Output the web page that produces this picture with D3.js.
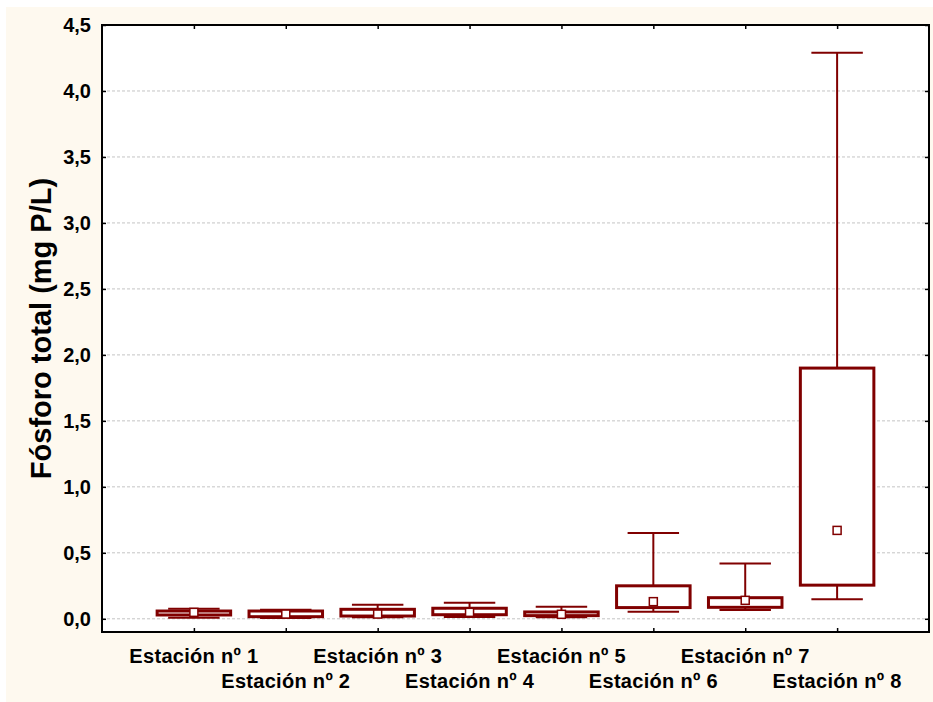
<!DOCTYPE html>
<html>
<head>
<meta charset="utf-8">
<script src="https://cdn.jsdelivr.net/npm/d3@7"></script>
<style>
  html, body { margin: 0; padding: 0; background: #ffffff; }
  svg { display: block; font-family: "Liberation Sans", Arial, sans-serif; }
</style>
</head>
<body>
<svg id="chart" width="933" height="702"></svg>
<script>
// Total phosphorus per sampling station (mg P/L)
const stations = ["Estación nº 1", "Estación nº 2", "Estación nº 3", "Estación nº 4",
                  "Estación nº 5", "Estación nº 6", "Estación nº 7", "Estación nº 8"];
const whiskerLow  = [0.008, 0.006, 0.011, 0.014, 0.011, 0.054, 0.067, 0.148];
const boxLow      = [0.029, 0.016, 0.021, 0.031, 0.024, 0.085, 0.087, 0.255];
const boxHigh     = [0.059, 0.059, 0.072, 0.080, 0.052, 0.250, 0.160, 1.900];
const whiskerHigh = [0.077, 0.069, 0.107, 0.122, 0.092, 0.650, 0.420, 4.290];
const centre      = [0.049, 0.036, 0.036, 0.049, 0.034, 0.130, 0.140, 0.670];
const yTicks = [0, 0.5, 1, 1.5, 2, 2.5, 3, 3.5, 4, 4.5];
const yLabel = "Fósforo total (mg P/L)";

const svg = d3.select("#chart");
const W = 933, H = 702;
const plot = { left: 102, top: 25, right: 929, bottom: 632 };
const markColor = "#800000";

// cream page panel
svg.append("rect").attr("x", 6).attr("y", 7).attr("width", W - 6).attr("height", H - 7)
  .attr("fill", "#fef9ef");
// white plotting area
svg.append("rect").attr("x", plot.left).attr("y", plot.top)
  .attr("width", plot.right - plot.left).attr("height", plot.bottom - plot.top)
  .attr("fill", "#ffffff");

const x = d3.scalePoint().domain(stations).range([plot.left, plot.right]).padding(1);
const y = d3.scaleLinear().domain([-0.1, 4.5]).range([plot.bottom, plot.top]);
const step = x.step();
const boxW = step * 0.8, capW = step * 0.56;

// dashed horizontal gridlines
svg.append("g").selectAll("line").data(yTicks).join("line")
  .attr("x1", plot.left).attr("x2", plot.right)
  .attr("y1", d => y(d)).attr("y2", d => y(d))
  .attr("stroke", "#c4c4c4").attr("stroke-width", 1).attr("stroke-dasharray", "3,2");

// axes with inward ticks on all four sides
const fmt = d3.format(".1f");
const yAxisL = svg.append("g").attr("transform", `translate(${plot.left},0)`)
  .call(d3.axisRight(y).tickValues(yTicks).tickSize(4).tickFormat(""));
const yAxisR = svg.append("g").attr("transform", `translate(${plot.right},0)`)
  .call(d3.axisLeft(y).tickValues(yTicks).tickSize(4).tickFormat(""));
const xAxisB = svg.append("g").attr("transform", `translate(0,${plot.bottom})`)
  .call(d3.axisTop(x).tickSize(4).tickFormat(""));
const xAxisT = svg.append("g").attr("transform", `translate(0,${plot.top})`)
  .call(d3.axisBottom(x).tickSize(4).tickFormat(""));
[yAxisL, yAxisR, xAxisB, xAxisT].forEach(g => {
  g.select(".domain").remove();
  g.selectAll(".tick line").attr("stroke", "#000").attr("stroke-width", 1.5);
});

// frame
svg.append("rect").attr("x", plot.left).attr("y", plot.top)
  .attr("width", plot.right - plot.left).attr("height", plot.bottom - plot.top)
  .attr("fill", "none").attr("stroke", "#000").attr("stroke-width", 2);

// y tick labels
svg.append("g").selectAll("text").data(yTicks).join("text")
  .attr("x", plot.left - 11).attr("y", d => y(d)).attr("dy", "0.36em")
  .attr("text-anchor", "end").attr("font-size", 20).attr("font-weight", "bold")
  .attr("fill", "#000").text(d => fmt(d).replace(".", ","));

// x category labels on two alternating rows
svg.append("g").selectAll("text").data(stations).join("text")
  .attr("x", d => x(d)).attr("y", (d, i) => i % 2 === 0 ? 663 : 688)
  .attr("text-anchor", "middle").attr("font-size", 20).attr("font-weight", "bold")
  .attr("letter-spacing", 0.3)
  .attr("fill", "#000").text(d => d);

// y axis title
svg.append("text")
  .attr("transform", `translate(51,${(plot.top + plot.bottom) / 2}) rotate(-90)`)
  .attr("text-anchor", "middle").attr("font-size", 29).attr("font-weight", "bold")
  .attr("fill", "#000").text(yLabel);

// box plots
const rows = stations.map((s, i) => ({
  s, lo: whiskerLow[i], q1: boxLow[i], q3: boxHigh[i], hi: whiskerHigh[i], c: centre[i]
}));
const g = svg.append("g");
const box = g.selectAll("g.box").data(rows).join("g").attr("class", "box");

box.append("line") // upper whisker
  .attr("x1", d => x(d.s)).attr("x2", d => x(d.s))
  .attr("y1", d => y(d.q3)).attr("y2", d => y(d.hi))
  .attr("stroke", markColor).attr("stroke-width", 2);
box.append("line") // lower whisker
  .attr("x1", d => x(d.s)).attr("x2", d => x(d.s))
  .attr("y1", d => y(d.q1)).attr("y2", d => y(d.lo))
  .attr("stroke", markColor).attr("stroke-width", 2);
box.append("line") // upper cap
  .attr("x1", d => x(d.s) - capW / 2).attr("x2", d => x(d.s) + capW / 2)
  .attr("y1", d => y(d.hi)).attr("y2", d => y(d.hi))
  .attr("stroke", markColor).attr("stroke-width", 2);
box.append("line") // lower cap
  .attr("x1", d => x(d.s) - capW / 2).attr("x2", d => x(d.s) + capW / 2)
  .attr("y1", d => y(d.lo)).attr("y2", d => y(d.lo))
  .attr("stroke", markColor).attr("stroke-width", 2);
box.append("rect")
  .attr("x", d => x(d.s) - boxW / 2).attr("width", boxW)
  .attr("y", d => y(d.q3)).attr("height", d => y(d.q1) - y(d.q3))
  .attr("fill", "#ffffff").attr("stroke", markColor).attr("stroke-width", 3);
box.append("rect") // centre marker
  .attr("x", d => x(d.s) - 4).attr("y", d => y(d.c) - 4)
  .attr("width", 8).attr("height", 8)
  .attr("fill", "#ffffff").attr("stroke", markColor).attr("stroke-width", 1.5);
</script>
</body>
</html>
